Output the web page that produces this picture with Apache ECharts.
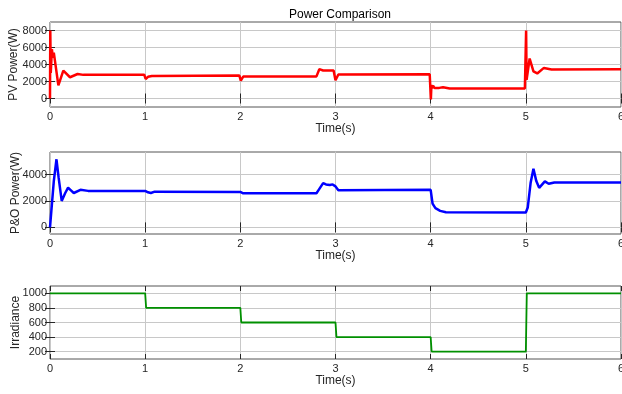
<!DOCTYPE html>
<html>
<head>
<meta charset="utf-8">
<script src="https://cdn.jsdelivr.net/npm/echarts@6/dist/echarts.min.js"></script>
<style>html,body{margin:0;padding:0;background:#fff}#c{width:622px;height:394px}</style>
</head>
<body>
<div id="c"></div>
<script>
// ---- data ----
var xTicks = [0, 1, 2, 3, 4, 5, 6];
var pvTicks = [0, 2000, 4000, 6000, 8000];
var poTicks = [0, 2000, 4000];
var irrTicks = [200, 400, 600, 800, 1000];

var pvTime  = [0, 0.003, 0.008, 0.02, 0.03, 0.04, 0.088, 0.14, 0.21, 0.29, 0.35, 0.6, 0.99, 1.0, 1.005, 1.03, 1.07, 1.99, 2.0, 2.005, 2.03, 2.8, 2.83, 2.87, 2.98, 2.995, 3.0, 3.03, 3.99, 4.0, 4.002, 4.008, 4.015, 4.025, 4.04, 4.06, 4.09, 4.13, 4.2, 4.99, 5.0, 5.003, 5.008, 5.04, 5.08, 5.12, 5.19, 5.27, 6.0];
var pvPower = [0, 8000, 3000, 5800, 4800, 5400, 1550, 3270, 2500, 2880, 2780, 2800, 2800, 2800, 2300, 2550, 2650, 2700, 2700, 2100, 2580, 2600, 3450, 3300, 3300, 3300, 2150, 2830, 2850, 2850, -100, 1600, 1200, 1500, 1250, 1400, 1250, 1330, 1180, 1180, 1180, 8000, 2200, 4700, 3200, 2950, 3600, 3420, 3450];

var poTime  = [0, 0.006, 0.015, 0.04, 0.068, 0.09, 0.123, 0.16, 0.19, 0.22, 0.25, 0.32, 0.4, 1.0, 1.03, 1.06, 1.1, 2.0, 2.03, 2.8, 2.82, 2.87, 2.9, 2.94, 2.97, 3.0, 3.03, 4.0, 4.02, 4.05, 4.1, 4.16, 5.0, 5.02, 5.05, 5.08, 5.11, 5.14, 5.2, 5.24, 5.3, 6.0];
var poPower = [0, 0, 100, 3500, 5150, 3800, 2000, 2600, 3000, 2800, 2600, 2840, 2760, 2760, 2650, 2600, 2700, 2680, 2580, 2580, 2800, 3350, 3250, 3200, 3250, 3100, 2800, 2840, 1800, 1450, 1250, 1150, 1130, 1500, 3350, 4440, 3500, 2990, 3480, 3300, 3400, 3400];

var irrTime  = [0, 1.0, 1.01, 2.0, 2.01, 3.0, 3.01, 4.0, 4.01, 5.0, 5.01, 6.0];
var irrValue = [1000, 1000, 800, 800, 600, 600, 400, 400, 200, 200, 1000, 1000];

function pairs(t, v) { return t.map(function (x, i) { return [x, v[i]]; }); }

var FONT = 'Liberation Sans, Arial, sans-serif';
var tickColor = '#262626';
var gridColor = '#c8c8c8';
var plain = function (v) { return String(v); };

var grids = [
  { left: 50, right: 1, top: 22, height: 85 },
  { left: 50, right: 1, top: 152, height: 82 },
  { left: 50, right: 1, top: 286, height: 73 }
];
grids.forEach(function (g) {
  g.show = true; g.borderColor = '#555555'; g.borderWidth = 1; g.backgroundColor = 'transparent';
  g.containLabel = false; g.outerBoundsMode = 'none';
});

var yRanges = [[-1000, 9000], [-500, 5700], [100, 1100]];
var yTickSets = [pvTicks, poTicks, irrTicks];
var yNames = ['PV Power(W)', 'P&O Power(W)', 'Irradiance'];
var yNameGaps = [30, 28, 28];

var xAxes = [], yAxes = [];
for (var i = 0; i < 3; i++) {
  xAxes.push({
    type: 'value', gridIndex: i, min: 0, max: 6, interval: 1, position: 'bottom',
    name: 'Time(s)', nameLocation: 'middle', nameGap: 16, nameMoveOverlap: false,
    nameTextStyle: { color: tickColor, fontFamily: FONT, fontSize: 12 },
    axisLine: { show: false },
    axisTick: { show: true, inside: true, length: 5, lineStyle: { color: tickColor } },
    axisLabel: { color: tickColor, fontFamily: FONT, fontSize: 11, margin: 4, formatter: plain },
    splitLine: { show: true, lineStyle: { color: gridColor, width: 1 } }
  });
  yAxes.push({
    type: 'value', gridIndex: i, min: yRanges[i][0], max: yRanges[i][1], position: 'left',
    name: yNames[i], nameLocation: 'middle', nameGap: yNameGaps[i], nameMoveOverlap: false,
    nameTextStyle: { color: tickColor, fontFamily: FONT, fontSize: 12 },
    axisLine: { show: false },
    axisTick: { show: true, inside: true, length: 5, lineStyle: { color: tickColor }, customValues: yTickSets[i] },
    axisLabel: { color: tickColor, fontFamily: FONT, fontSize: 11, margin: 3, customValues: yTickSets[i], formatter: plain },
    splitLine: { show: true, lineStyle: { color: gridColor, width: 1 } }
  });
}
for (var j = 0; j < 3; j++) {
  xAxes.push({
    type: 'value', gridIndex: j, min: 0, max: 6, interval: 1, position: 'top',
    axisLine: { show: false }, axisLabel: { show: false }, splitLine: { show: false },
    axisTick: { show: true, inside: true, length: 5, lineStyle: { color: tickColor } }
  });
  yAxes.push({
    type: 'value', gridIndex: j, min: yRanges[j][0], max: yRanges[j][1], position: 'right',
    axisLine: { show: false }, axisLabel: { show: false }, splitLine: { show: false },
    axisTick: { show: true, inside: true, length: 5, lineStyle: { color: tickColor }, customValues: yTickSets[j] }
  });
}

var chart = echarts.init(document.getElementById('c'), null, { renderer: 'canvas' });
chart.setOption({
  animation: false,
  backgroundColor: '#ffffff',
  title: {
    text: 'Power Comparison', left: 335, top: 4, textAlign: 'center',
    textStyle: { color: '#000', fontFamily: FONT, fontSize: 12, fontWeight: 'normal' }
  },
  grid: grids,
  xAxis: xAxes,
  yAxis: yAxes,
  series: [
    { type: 'line', xAxisIndex: 0, yAxisIndex: 0, data: pairs(pvTime, pvPower), showSymbol: false,
      lineStyle: { color: '#ff0000', width: 2.5 }, z: 5 },
    { type: 'line', xAxisIndex: 1, yAxisIndex: 1, data: pairs(poTime, poPower), showSymbol: false,
      lineStyle: { color: '#0000ff', width: 2.5 }, z: 5 },
    { type: 'line', xAxisIndex: 2, yAxisIndex: 2, data: pairs(irrTime, irrValue), showSymbol: false,
      lineStyle: { color: '#009000', width: 1.8 }, z: 5 }
  ]
});
</script>
</body>
</html>
